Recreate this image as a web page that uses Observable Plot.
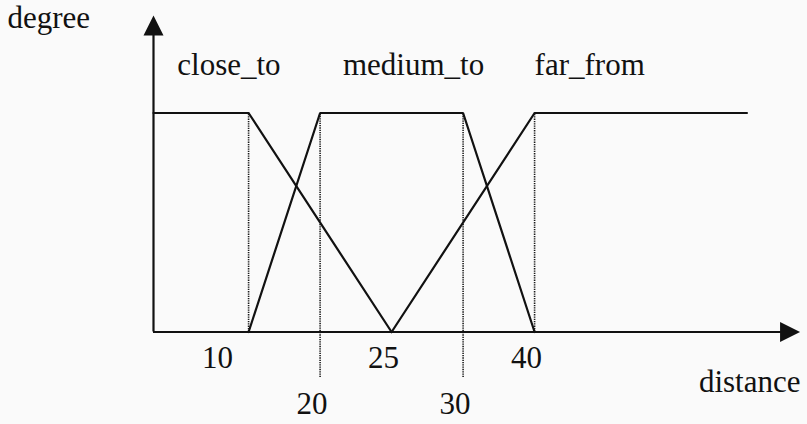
<!DOCTYPE html>
<html>
<head>
<meta charset="utf-8">
<script src="https://cdn.jsdelivr.net/npm/d3@7"></script>
<script src="https://cdn.jsdelivr.net/npm/@observablehq/plot@0.6"></script>
<style>
  html, body { margin: 0; padding: 0; background: #fafafa; }
  #chart svg { display: block; background: transparent; }
  #chart svg text { font-family: "Liberation Serif", "Times New Roman", "DejaVu Serif", serif; }
</style>
</head>
<body>
<div id="chart"></div>
<script>
// Fuzzy membership functions for the linguistic variable "distance"
const setNames = ["close_to", "medium_to", "far_from"];
const closeX = [0, 10, 25];
const closeY = [1, 1, 0];
const mediumX = [10, 20, 30, 40];
const mediumY = [0, 1, 1, 0];
const farX = [25, 40, 60];
const farY = [0, 1, 1];

// Breakpoints marked with dotted guides and their tick labels
const guidesShort = [10, 40];      // guides that stop at the axis
const guidesLong = [20, 30];       // guides that run below the axis
const ticksUpper = [25, 40];
const ticksLower = [20, 30];
const tickFirst = [10];

// Where each set name sits along the distance axis
const setLabelX = [2.5, 21.6, 40];

const axisXEnd = 65;
const axisYEnd = 1.445;

const series = [
  ...closeX.map((x, i) => ({set: setNames[0], x, y: closeY[i]})),
  ...mediumX.map((x, i) => ({set: setNames[1], x, y: mediumY[i]})),
  ...farX.map((x, i) => ({set: setNames[2], x, y: farY[i]}))
];
const labels = setNames.map((name, i) => ({name, x: setLabelX[i]}));

// Schematic distance axis: breakpoints sit one slot apart, not to scale
const slot = d3.scaleLinear()
  .domain([0, 10, 20, 25, 30, 40, 60])
  .range([0, 1.33, 2.33, 3.33, 4.33, 5.33, 8.3]);

// Filled arrowheads with their tip at the symbol origin
const arrowUp = {
  draw(ctx, size) {
    const r = Math.sqrt(size / Math.PI);
    ctx.moveTo(0, 0); ctx.lineTo(r, 2 * r); ctx.lineTo(-r, 2 * r); ctx.closePath();
  }
};
const arrowRight = {
  draw(ctx, size) {
    const r = Math.sqrt(size / Math.PI);
    ctx.moveTo(0, 0); ctx.lineTo(-2 * r, -r); ctx.lineTo(-2 * r, r); ctx.closePath();
  }
};

const font = "'Liberation Serif', 'Times New Roman', serif";
const fs = 31;
const ink = "#111";
const dots = {stroke: "#1a1a1a", strokeWidth: 1.6, strokeDasharray: "1.3,1"};

const chart = Plot.plot({
  width: 807,
  height: 424,
  margin: 0,
  style: {background: "transparent", fontFamily: font, color: ink},
  x: {type: "linear", transform: slot, domain: [0, 9], range: [153, 796.5], axis: null},
  y: {domain: [0, 1], range: [331.5, 112.5], axis: null},
  marks: [
    // dotted guides
    Plot.ruleX(guidesShort, {x: d => d, y1: 0, y2: 1, ...dots}),
    Plot.ruleX(guidesLong, {x: d => d, y1: -0.208, y2: 1, ...dots}),
    // axes with arrowheads
    Plot.ruleX([0], {x: d => d, y1: 0, y2: axisYEnd - 0.05, stroke: ink, strokeWidth: 2.2}),
    Plot.ruleY([0], {y: d => d, x1: 0, x2: axisXEnd - 1, stroke: ink, strokeWidth: 2.2}),
    Plot.dot([{x: 0, y: axisYEnd}], {x: "x", y: "y", symbol: arrowUp, r: 10, fill: ink, stroke: "none"}),
    Plot.dot([{x: axisXEnd, y: 0}], {x: "x", y: "y", symbol: arrowRight, r: 10, fill: ink, stroke: "none"}),
    // membership functions
    Plot.line(series, {x: "x", y: "y", z: "set", stroke: ink, strokeWidth: 2.2, strokeLinejoin: "miter"}),
    // set names
    Plot.text(labels, {x: "x", y: 1.175, text: "name", textAnchor: "start", lineAnchor: "bottom", fontSize: fs, fill: ink}),
    // tick labels
    Plot.text(tickFirst, {x: d => d, y: 0, text: d => String(d), dx: -31, dy: 36, lineAnchor: "bottom", fontSize: fs, fill: ink}),
    Plot.text(ticksUpper, {x: d => d, y: 0, text: d => String(d), dx: -8, dy: 36, lineAnchor: "bottom", fontSize: fs, fill: ink}),
    Plot.text(ticksLower, {x: d => d, y: 0, text: d => String(d), dx: -8, dy: 82, lineAnchor: "bottom", fontSize: fs, fill: ink}),
    // axis titles
    Plot.text(["degree"], {frameAnchor: "top-left", text: d => d, dx: 7, dy: 27, textAnchor: "start", lineAnchor: "bottom", fontSize: fs, fill: ink}),
    Plot.text(["distance"], {frameAnchor: "bottom-right", text: d => d, dx: -7, dy: -33, textAnchor: "end", lineAnchor: "bottom", fontSize: fs, fill: ink})
  ]
});
document.getElementById("chart").append(chart);
</script>
</body>
</html>
